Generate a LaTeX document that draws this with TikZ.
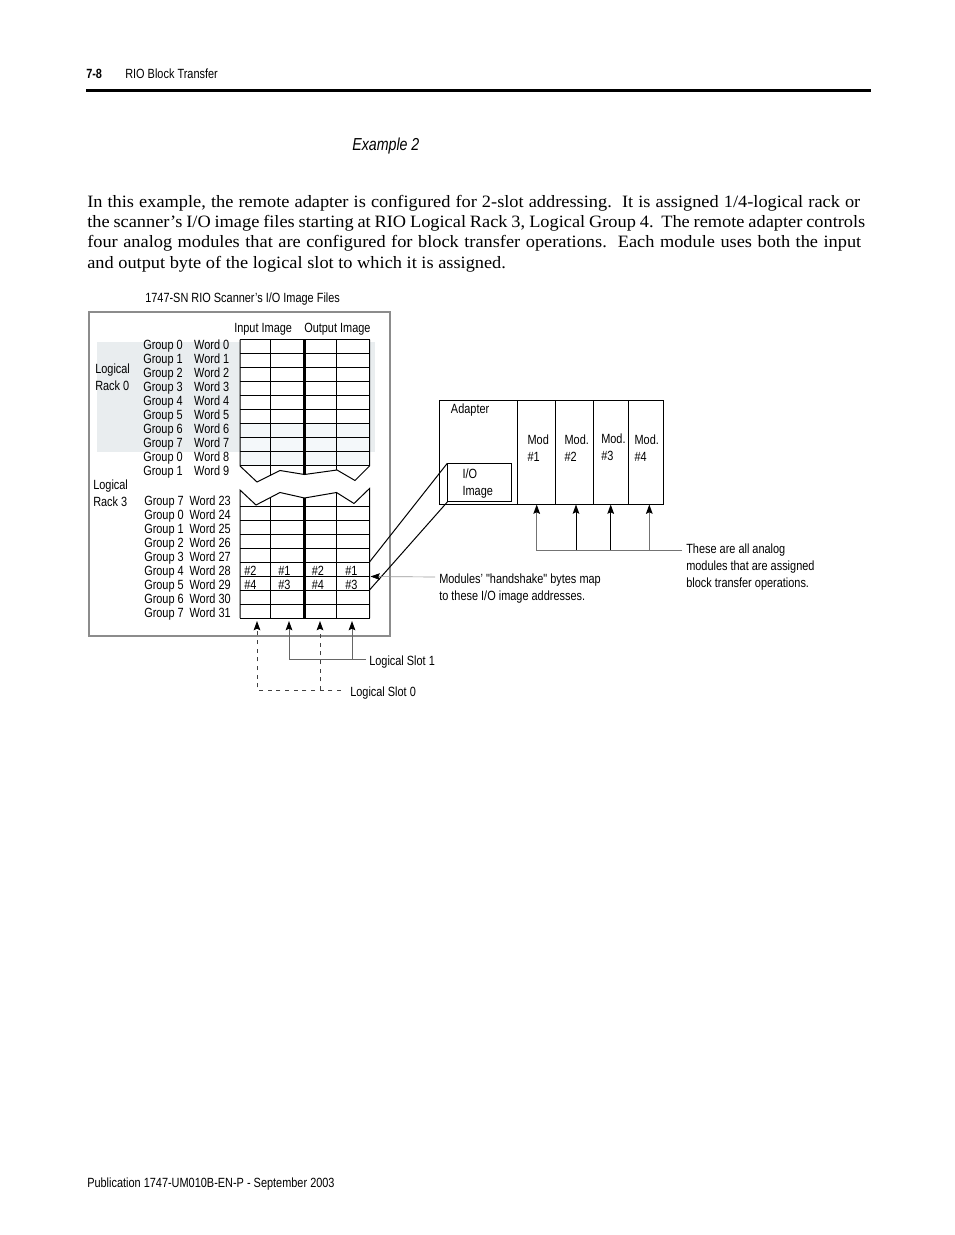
\documentclass[tikz,border=0pt]{standalone}
\usepackage{fontspec}
\setmainfont{Liberation Serif}[FakeStretch=1.058]
\newfontfamily\uni{Liberation Sans}[FakeStretch=0.82]
\usetikzlibrary{arrows.meta}
\definecolor{rackshade}{HTML}{E9EDEF}
\definecolor{cellshade}{HTML}{F4F8FA}
\definecolor{boxgray}{HTML}{8C8C8C}

\begin{document}
\begin{tikzpicture}[x=0.75pt, y=-0.75pt, font=\uni\fontsize{10}{12.75}\selectfont]
\tikzset{
  lbl/.style={anchor=base west, inner sep=0pt},
  lblr/.style={anchor=base east, inner sep=0pt},
  blk/.style={anchor=west, inner sep=0pt, align=left},
  para/.style={anchor=base west, inner sep=0pt, font=\rmfamily\fontsize{13}{15}\selectfont},
  grid/.style={line width=0.75pt},
  mid/.style={line width=1.6pt},
  up/.style={-{Stealth[length=7pt, width=5pt, inset=1.2pt, color=black]}, line width=0.75pt},
  slotline/.style={black!60},
  slotdash/.style={black!75, dash pattern=on 3pt off 3.5pt},
}
\fill[white] (0,0) rectangle (954,1235);
\useasboundingbox (0,0) rectangle (954,1235);

\node[lbl, font=\uni\bfseries\fontsize{10}{12}\selectfont] (pnum) at (86,78) {7-8};
\node[lbl] (chap) at (125,78) {RIO Block Transfer};
\fill (86,88.5) rectangle (871,91.5);
\node[lbl, font=\uni\itshape\fontsize{13}{15}\selectfont] (ex) at (352,150) {Example 2};

\node[para] (p1) at (87,207) {\makebox[579.75pt][s]{In this example, the remote adapter is configured for 2-slot addressing.\ \ It is assigned 1/4-logical rack or}};
\node[para] (p2) at (87,227) {\makebox[583.5pt][s]{the scanner’s I/O image files starting at RIO Logical Rack 3, Logical Group 4.\ \ The remote adapter controls}};
\node[para] (p3) at (87,247) {\makebox[580.5pt][s]{four analog modules that are configured for block transfer operations.\ \ Each module uses both the input}};
\node[para] (p4) at (87,268) {and output byte of the logical slot to which it is assigned.};

\node[lbl] (title) at (145,302) {1747-SN RIO Scanner’s I/O Image Files};
\draw[boxgray, line width=1pt] (89,312) rectangle (390,636);
\fill[rackshade] (97,342) rectangle (375,452);
\fill[white] (240,339.5) rectangle (369.5,424);
\fill[cellshade] (240,424) rectangle (369.5,465.5);
\node[lbl] (inimg) at (234,332) {Input Image};
\node[lbl] (outimg) at (304,332) {Output Image};

\foreach \g [count=\i from 0] in {0,1,2,3,4,5,6,7,0,1} {
  \node[lbl] (ug\i) at (143,{349+14.1*\i}) {Group \g};
  \node[lblr] (uw\i) at (229.5,{349+14.1*\i}) {Word \i};
}
\foreach \g [count=\i from 0] in {7,0,1,2,3,4,5,6,7} {
  \pgfmathtruncatemacro\w{23+\i}
  \node[lbl] (lg\i) at (144,{505+14*\i}) {Group \g};
  \node[lblr] (lw\i) at (231,{505+14*\i}) {Word \w};
}
\node[blk] (rack0) at (95,377.5) {Logical\\Rack 0};
\node[blk] (rack3) at (93,493) {Logical\\Rack 3};

\foreach \y in {0,...,9} \draw[grid] (240,{339.5+14*\y}) -- (369.5,{339.5+14*\y});
\draw[grid] (240,339.5) -- (240,466) -- (257,482) -- (280,470.5) -- (304.5,474.5) -- (337,470) -- (355,480.5) -- (369.5,466) -- (369.5,339.5);
\draw[grid] (270,339.5) -- (270,475.5);
\draw[mid] (304.5,339.5) -- (304.5,474.5);
\draw[grid] (336.5,339.5) -- (336.5,470);

\draw[grid] (240,618) -- (240,490) -- (256,505) -- (280,492.5) -- (304.5,498) -- (336.5,492.5) -- (354,503.5) -- (369.5,488.5) -- (369.5,618);
\foreach \y in {0,...,8} \draw[grid] (240,{506+14*\y}) -- (369.5,{506+14*\y});
\draw[grid] (270,497.7) -- (270,618);
\draw[mid] (304.5,498) -- (304.5,618);
\draw[grid] (336.5,492.5) -- (336.5,618);

\foreach \t/\x [count=\k] in {2/244,1/278,2/311.5,1/345}
  \node[lbl] (ca\k) at (\x,575) {\#\t};
\foreach \t/\x [count=\k] in {4/244,3/278,4/311.5,3/345}
  \node[lbl] (cb\k) at (\x,589) {\#\t};

\node[lbl] (slot1) at (369,665) {Logical Slot 1};
\node[lbl] (slot0) at (350,696.5) {Logical Slot 0};
\coordinate (gb) at (0,621);
\coordinate (s0a) at (257,690);
\coordinate (s0b) at (320,690);
\coordinate (s0e) at (341,690);
\coordinate (s1a) at (289,659.5);
\coordinate (s1b) at (352,659.5);
\coordinate (s1e) at (366,659.5);
\draw[up, slotdash] (s0e) -- (s0a) -- (s0a |- gb);
\draw[up, slotdash] (s0b) -- (s0b |- gb);
\draw[up, slotline] (s1e) -- (s1a) -- (s1a |- gb);
\draw[up, slotline] (s1b) -- (s1b |- gb);

\draw[grid] (439.5,400) rectangle (663,504);
\foreach \x in {517.7,555,593.3,628.3} \draw[grid] (\x,400) -- (\x,504);
\node[lbl] (adapter) at (450.7,413) {Adapter};
\foreach \x/\t [count=\k] in {527.3/Mod,564.3/Mod.,601/Mod.,634.3/Mod.}
  \node[blk] (mod\k) at (\x,447.7) {\t\\\#\k};
\node[draw, grid, anchor=north west, minimum width=47.8pt, minimum height=28.3pt, inner sep=0pt] (iobox) at (447.3,463.3) {};
\node[blk] (ioimg) at (462.3,483.5) {I/O\\Image};

\coordinate (r28) at (369.5,562);
\coordinate (r29) at (369.5,590);
\draw[grid] (iobox.north west) -- (r28);
\draw[grid] (iobox.south west) -- (r29);

\coordinate (rb) at (0,504.5);
\coordinate (m1) at (536.7,550);
\coordinate (m2) at (576,550);
\coordinate (m3) at (610.7,550);
\coordinate (m4) at (649.3,550);
\coordinate (mend) at (682,550);
\draw[up, black!55] (mend) -- (m1) -- (m1 |- rb);
\draw[up] (m2) -- (m2 |- rb);
\draw[up] (m3) -- (m3 |- rb);
\draw[up, black!55] (m4) -- (m4 |- rb);
\node[blk] (antxt) at (686,567) {These are all analog\\modules that are assigned\\block transfer operations.};

\coordinate (hs) at (435,577);
\coordinate (hsend) at (370.5,576.5);
\draw[up, black!40, line width=0.5pt] (hs) -- (hsend);
\node[blk] (hstxt) at (439,588.5) {Modules’ "handshake" bytes map\\to these I/O image addresses.};

\node[lbl] (pub) at (87,1187) {Publication 1747-UM010B-EN-P - September 2003};
\end{tikzpicture}
\end{document}
